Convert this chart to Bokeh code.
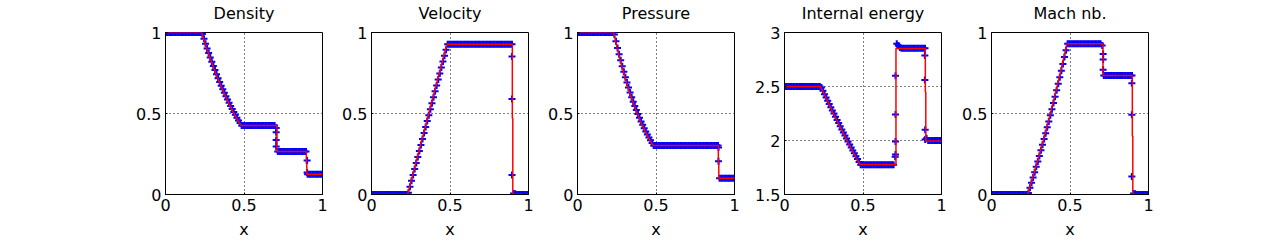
from bokeh.plotting import figure
from bokeh.layouts import row
from bokeh.models import FixedTicker, CustomJSTickFormatter
from bokeh.embed import file_html
from bokeh.resources import INLINE

FONT = "DejaVu Sans"

# ---------------- data ----------------
# red curve (fine solution) vertices
red_x = [0.0, 0.230, 0.255, 0.280, 0.305, 0.330, 0.355, 0.380, 0.405, 0.430, 0.455, 0.480,
         0.710, 0.710, 0.897, 0.897, 0.900, 0.900, 1.0]
red_density = [1.0, 1.0, 0.924, 0.853, 0.786, 0.723, 0.665, 0.610, 0.559, 0.512, 0.467, 0.426,
               0.426, 0.266, 0.266, 0.19, 0.19, 0.125, 0.125]
red_velocity = [0.0, 0.0, 0.093, 0.185, 0.278, 0.371, 0.464, 0.556, 0.649, 0.742, 0.835, 0.927,
                0.927, 0.927, 0.927, 0.47, 0.47, 0.0, 0.0]
red_pressure = [1.0, 1.0, 0.895, 0.800, 0.714, 0.635, 0.565, 0.501, 0.443, 0.391, 0.345, 0.303,
                0.303, 0.303, 0.303, 0.20, 0.20, 0.1, 0.1]
red_energy = [2.5, 2.5, 2.422, 2.346, 2.270, 2.196, 2.123, 2.052, 1.981, 1.912, 1.844, 1.778,
              1.778, 2.853, 2.853, 2.45, 2.45, 1.995, 1.995]
red_mach = [0.0, 0.0, 0.080, 0.162, 0.247, 0.335, 0.425, 0.519, 0.616, 0.717, 0.821, 0.930,
            0.930, 0.734, 0.734, 0.36, 0.36, 0.0, 0.0]

# blue markers (coarse solution)
blue_x = [0.005, 0.015, 0.025, 0.035, 0.045, 0.055, 0.065, 0.075, 0.085, 0.095,
          0.105, 0.115, 0.125, 0.135, 0.145, 0.155, 0.165, 0.175, 0.185, 0.195,
          0.205, 0.215, 0.225, 0.235, 0.245, 0.255, 0.265, 0.275, 0.285, 0.295,
          0.305, 0.315, 0.325, 0.335, 0.345, 0.355, 0.365, 0.375, 0.385, 0.395,
          0.405, 0.415, 0.425, 0.435, 0.445, 0.455, 0.465, 0.475, 0.485, 0.495,
          0.505, 0.515, 0.525, 0.535, 0.545, 0.555, 0.565, 0.575, 0.585, 0.595,
          0.605, 0.615, 0.625, 0.635, 0.645, 0.655, 0.665, 0.675, 0.685, 0.695,
          0.705, 0.715, 0.725, 0.735, 0.745, 0.755, 0.765, 0.775, 0.785, 0.795,
          0.805, 0.815, 0.825, 0.835, 0.845, 0.855, 0.865, 0.875, 0.885, 0.895,
          0.905, 0.915, 0.925, 0.935, 0.945, 0.955, 0.965, 0.975, 0.985, 0.995]

blue_density = ([1.0] * 23 +
                [0.991, 0.961, 0.931, 0.902, 0.874, 0.846, 0.819, 0.793, 0.768, 0.743,
                 0.718, 0.695, 0.672, 0.650, 0.628, 0.607, 0.586, 0.566, 0.547, 0.528,
                 0.509, 0.492, 0.474, 0.457, 0.441] +
                [0.426] * 22 + [0.41] + [0.266] * 19 + [0.125] * 10)
blue_velocity = ([0.0] * 23 +
                 [0.011, 0.048, 0.085, 0.121, 0.158, 0.195, 0.232, 0.269, 0.305, 0.342,
                  0.379, 0.416, 0.453, 0.489, 0.526, 0.563, 0.600, 0.637, 0.673, 0.710,
                  0.747, 0.784, 0.821, 0.857, 0.894] +
                 [0.927] * 42 + [0.006, 0.004] + [0.0] * 8)
blue_pressure = ([1.0] * 23 +
                 [0.988, 0.946, 0.904, 0.866, 0.828, 0.791, 0.757, 0.723, 0.691, 0.660,
                  0.629, 0.601, 0.573, 0.547, 0.522, 0.497, 0.474, 0.451, 0.430, 0.409,
                  0.389, 0.370, 0.352, 0.335, 0.318] +
                 [0.303] * 42 + [0.1] * 10)
blue_energy = ([2.5] * 23 +
               [2.491, 2.460, 2.429, 2.399, 2.368, 2.338, 2.308, 2.278, 2.249, 2.219,
                2.190, 2.161, 2.132, 2.103, 2.075, 2.047, 2.019, 1.991, 1.963, 1.936,
                1.908, 1.881, 1.854, 1.828, 1.801] +
               [1.775] * 22 + [1.85] + [2.895, 2.88, 2.86] + [2.855] * 16 +
               [2.02] + [2.0] * 9)
blue_mach = ([0.0] * 23 +
             [0.010, 0.041, 0.073, 0.105, 0.138, 0.171, 0.204, 0.238, 0.273, 0.307,
              0.342, 0.378, 0.415, 0.451, 0.489, 0.526, 0.565, 0.603, 0.643, 0.683,
              0.723, 0.764, 0.806, 0.848, 0.891] +
             [0.930] * 22 + [0.92] + [0.734] * 19 + [0.006, 0.004] + [0.0] * 8)

# blue markers inside the jumps
jump_density_x = [0.705, 0.705, 0.705, 0.902, 0.902]
jump_density_y = [0.385, 0.337, 0.296, 0.21, 0.136]
jump_velocity_x = [0.895, 0.895, 0.895]
jump_velocity_y = [0.852, 0.59, 0.12]
jump_pressure_x = [0.898, 0.898]
jump_pressure_y = [0.29, 0.205]
jump_energy_x = [0.707, 0.707, 0.707, 0.707, 0.894, 0.894, 0.896, 0.896]
jump_energy_y = [1.99, 2.24, 2.60, 1.87, 2.787, 2.56, 2.10, 2.01]
jump_mach_x = [0.711, 0.711, 0.711, 0.894, 0.894, 0.894]
jump_mach_y = [0.868, 0.833, 0.770, 0.687, 0.492, 0.111]

titles = ["Density", "Velocity", "Pressure", "Internal energy", "Mach nb."]
x_ticks = [0, 0.5, 1]
unit_ticks = [0, 0.5, 1]
energy_ticks = [1.5, 2, 2.5, 3]


def make_panel(title, ry, by, jx, jy, yr, yticks, left_border, right_border):
    p = figure(frame_width=157, frame_height=162, x_range=(0, 1), y_range=yr,
               output_backend="svg", toolbar_location=None,
               min_border_left=left_border, min_border_right=right_border,
               min_border_top=42, min_border_bottom=41,
               background_fill_color="white", border_fill_color="white")
    p.title.text = title
    p.title.align = "center"
    p.title.vertical_align = "bottom"
    p.title.text_font = FONT
    p.title.text_font_size = "16px"
    p.title.text_font_style = "normal"
    p.title.text_color = "black"
    p.title.standoff = 20

    p.outline_line_color = "black"
    p.outline_line_width = 1
    p.outline_line_alpha = 1.0

    fmt = CustomJSTickFormatter(code="return tick.toString();")
    p.xaxis.ticker = FixedTicker(ticks=x_ticks)
    p.yaxis.ticker = FixedTicker(ticks=yticks)
    for ax in (p.xaxis[0], p.yaxis[0]):
        ax.formatter = fmt
        ax.major_label_text_font = FONT
        ax.major_label_text_font_size = "16px"
        ax.major_label_text_color = "black"
        ax.major_tick_in = 2
        ax.major_tick_out = 0
        ax.minor_tick_in = 0
        ax.minor_tick_out = 0
        ax.axis_line_color = "black"
        ax.major_tick_line_color = "black"
    p.xaxis.major_label_standoff = 4
    p.yaxis.major_label_standoff = 4
    p.xaxis.axis_label = "x"
    p.xaxis.axis_label_text_font = FONT
    p.xaxis.axis_label_text_font_size = "16px"
    p.xaxis.axis_label_text_font_style = "normal"
    p.xaxis.axis_label_text_color = "black"
    p.xaxis.axis_label_standoff = 6

    p.xgrid.ticker = FixedTicker(ticks=[0.5])
    p.ygrid.ticker = FixedTicker(ticks=[t for t in yticks if yr[0] < t < yr[1]])
    for g in (p.xgrid[0], p.ygrid[0]):
        g.grid_line_color = "black"
        g.grid_line_dash = "1 3"
        g.grid_line_width = 1
        g.grid_line_alpha = 1.0

    p.scatter(blue_x, by, marker="cross", size=7, line_color="#0000ff", line_width=2)
    p.scatter(jx, jy, marker="cross", size=7, line_color="#0000ff", line_width=2)
    p.line(red_x, ry, line_color="#ff0000", line_width=1.5)
    return p


panels = [
    make_panel(titles[0], red_density, blue_density, jump_density_x, jump_density_y,
               (0, 1), unit_ticks, 165, 9),
    make_panel(titles[1], red_velocity, blue_velocity, jump_velocity_x, jump_velocity_y,
               (0, 1), unit_ticks, 40, 9),
    make_panel(titles[2], red_pressure, blue_pressure, jump_pressure_x, jump_pressure_y,
               (0, 1), unit_ticks, 40, 10),
    make_panel(titles[3], red_energy, blue_energy, jump_energy_x, jump_energy_y,
               (1.5, 3), energy_ticks, 40, 10),
    make_panel(titles[4], red_mach, blue_mach, jump_mach_x, jump_mach_y,
               (0, 1), unit_ticks, 40, 10),
]

layout = row(*panels, styles={"margin-top": "-10px"})
open("out.html", "w").write(file_html(layout, INLINE))
